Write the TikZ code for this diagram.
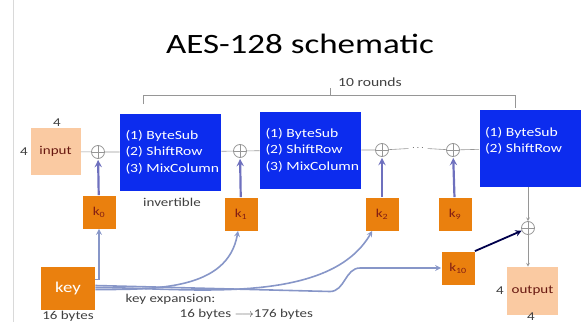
\documentclass[tikz,border=0pt]{standalone}
\usepackage{fontspec}
\setmainfont[FakeStretch=1.25]{Carlito}
\usetikzlibrary{positioning}
\usetikzlibrary{shapes.geometric, arrows}

\definecolor{roundblue}{RGB}{12,44,238}
\definecolor{keyorange}{RGB}{234,128,14}
\definecolor{datapeach}{RGB}{250,202,162}
\definecolor{keyred}{RGB}{130,30,20}
\definecolor{keyline}{RGB}{135,150,200}
\definecolor{xorline}{RGB}{110,112,190}
\definecolor{flowgray}{RGB}{150,150,150}

\begin{document}
\begin{tikzpicture}[x=1pt,y=-1pt,>=stealth,thick,
    round box/.style={fill=roundblue,text=white,align=flush left,inner sep=0pt,
      minimum width=101pt,minimum height=77pt,text width=90pt,
      font=\fontsize{12.5}{16.5}\selectfont},
    key box/.style={fill=keyorange,text=keyred,minimum size=33pt,inner sep=0pt,
      font=\fontsize{12}{14}\selectfont},
    data box/.style={fill=datapeach,text=keyred!80!black,minimum width=50pt,
      minimum height=47pt,inner sep=0pt,font=\fontsize{12}{14}\selectfont},
    xor node/.style={circle,draw=flowgray,minimum size=13pt,inner sep=0pt,
      path picture={\draw[flowgray,thin]
        (path picture bounding box.north) -- (path picture bounding box.south)
        (path picture bounding box.west) -- (path picture bounding box.east);}},
    small text/.style={text=black!75,font=\fontsize{12}{14}\selectfont},
    flow/.style={flowgray,semithick},
    key arrow/.style={->,xorline,line width=2.2pt,shorten >=1pt},
    key line/.style={->,keyline,line width=1.6pt}]

  \useasboundingbox (0,0) rectangle (582,322);
  \draw[black!15,thick] (13,0) -- (13,322);

  \node (title) at (300,44) {\fontsize{28}{30}\selectfont AES-128 schematic};

  % data path
  \node[data box] (input) at (55.5,151.5) {input};
  \node[xor node] (xor1) at (98,152) {};
  \node[round box] (round1) at (170.5,152) {(1) ByteSub\\(2) ShiftRow\\\mbox{(3) MixColumn}};
  \node[xor node] (xor2) at (240,151) {};
  \node[round box] (round2) at (310.5,150) {(1) ByteSub\\(2) ShiftRow\\\mbox{(3) MixColumn}};
  \node[xor node] (xor3) at (382,150) {};
  \node[text=black!70] (dots) at (418,148) {$\cdots$};
  \node[xor node] (xor4) at (453,150) {};
  \node[round box] (round3) at (530,148) {(1) ByteSub\\(2) ShiftRow\\\mbox{}};
  \node[xor node] (xor5) at (528,228) {};
  \node[data box,minimum width=51pt,minimum height=48pt] (output) at (532.5,291) {output};

  \node[small text] (in top) at (57,123) {4};
  \node[small text] (in left) at (24,152) {4};
  \node[small text] (out left) at (500,291) {4};
  \node[small text,anchor=south,inner sep=0pt] (out bottom) at (531,320.5) {4};
  \node[small text] (invertible) at (172,202) {invertible};

  % round keys
  \node[key box] (k0) at (99,212) {k\textsubscript{0}};
  \node[key box] (k1) at (241,214) {k\textsubscript{1}};
  \node[key box] (k2) at (382,214) {k\textsubscript{2}};
  \node[key box] (k9) at (455,214) {k\textsubscript{9}};
  \node[key box] (k10) at (458,268) {k\textsubscript{10}};
  \node[key box,text=white,minimum width=54pt,minimum height=43pt,
    font=\fontsize{15}{17}\selectfont] (key) at (68,288.5) {key};
  \node[small text] (key size) at (68,316) {16 bytes};
  \node[small text,anchor=west] (expansion) at (122,299) {key expansion:};
  \node[small text,anchor=west] (expansion bytes) at (176,314)
    {16 bytes $\longrightarrow$176 bytes};

  % 10 rounds bracket
  \draw[flowgray,semithick] (143,104) -- (143,95) -- (515,95) -- (515,108);
  \draw[flowgray,semithick] (330,95) -- (330,88);
  \node[small text,font=\fontsize{12.5}{14}\selectfont] (rounds) at (370,82) {10 rounds};

  \draw[flow] (input) -- (xor1) -- (round1);
  \draw[flow] (round1) -- (xor2) -- (round2);
  \draw[flow] (round2) -- (xor3) -- (dots) -- (xor4) -- (round3);
  \draw[flow,->] (round3.south -| xor5) -- (xor5);
  \draw[flow,->] (xor5) -- (output.north -| xor5);

  \path
    (k0) edge[key arrow] (xor1)
    (k1) edge[key arrow] (xor2)
    (k2) edge[key arrow] (xor3)
    (k9) edge[key arrow] (xor4);
  \draw[->,black!70!blue,line width=1.8pt] (k10.north east) -- (xor5);

  \draw[key line] ([yshift=-13pt]key.north east) -| (k0);
  \draw[key line] ([yshift=-1pt]key.east) to[out=0,in=-100] (k1);
  \draw[key line] ([yshift=1pt]key.east) to[out=0,in=-120,looseness=0.8] (k2);
  \draw[key line] ([yshift=3pt]key.east) -- (330,291.5)
    to[out=0,in=180] (360,268) -- (k10);
\end{tikzpicture}
\end{document}
